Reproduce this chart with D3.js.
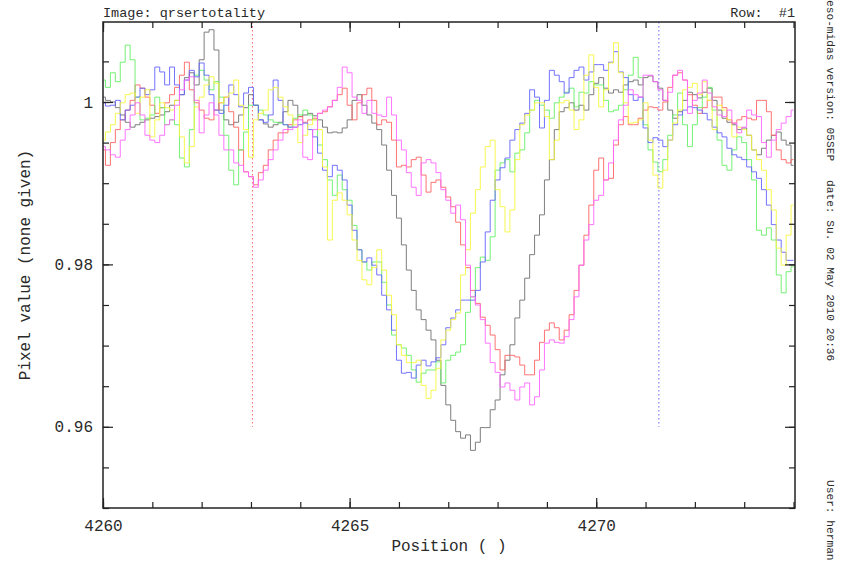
<!DOCTYPE html>
<html><head><meta charset="utf-8">
<script src="https://cdn.jsdelivr.net/npm/d3@7"></script>
<style>
html,body{margin:0;padding:0;background:#fff;}
svg{display:block;}
text{font-family:"Liberation Mono","DejaVu Sans Mono",monospace;fill:#2a2a2a;}
</style></head>
<body>
<svg id="chart" width="847" height="563"></svg>
<script>
// ---- data ----
const positions = d3.range(0, 141).map(i => +(4260 + i / 10).toFixed(1));

const seriesGray = [
1.0006,1.0002,1.0000,0.9993,0.9984,0.9975,0.9969,0.9972,0.9975,0.9978,
0.9980,0.9982,0.9984,0.9988,0.9996,1.0002,1.0009,1.0030,1.0036,1.0021,
1.0052,1.0086,1.0089,1.0064,0.9990,0.9978,0.9972,0.9975,0.9984,0.9993,
1.0009,0.9996,0.9978,0.9973,0.9969,0.9972,0.9975,0.9988,1.0002,0.9996,
0.9982,0.9984,0.9986,0.9983,0.9978,0.9969,0.9962,0.9963,0.9962,0.9968,
0.9978,1.0002,1.0009,0.9996,0.9984,0.9974,0.9966,0.9947,0.9916,0.9885,
0.9857,0.9824,0.9793,0.9768,0.9744,0.9732,0.9719,0.9707,0.9682,0.9651,
0.9627,0.9608,0.9594,0.9586,0.9590,0.9571,0.9581,0.9599,0.9599,0.9621,
0.9633,0.9664,0.9682,0.9701,0.9734,0.9756,0.9783,0.9812,0.9836,0.9861,
0.9904,0.9929,0.9966,0.9988,0.9993,0.9999,0.9990,0.9996,0.9990,1.0009,
1.0023,1.0030,1.0017,1.0011,1.0015,1.0012,1.0021,1.0025,1.0027,1.0021,
1.0030,1.0032,1.0025,1.0017,1.0002,0.9990,0.9980,0.9988,1.0002,1.0012,
1.0009,1.0005,1.0012,1.0017,1.0002,0.9990,0.9980,0.9975,0.9972,0.9966,
0.9968,0.9959,0.9941,0.9935,0.9943,0.9953,0.9959,0.9963,0.9953,0.9947,
0.9922];

const seriesRed = [
0.9941,0.9922,0.9950,0.9966,0.9978,0.9990,1.0002,1.0021,1.0017,1.0006,
0.9996,0.9986,0.9993,0.9999,1.0009,1.0018,1.0033,1.0049,1.0015,0.9999,
0.9990,0.9980,0.9978,0.9990,0.9999,1.0006,0.9988,0.9969,0.9941,0.9914,
0.9908,0.9898,0.9913,0.9922,0.9941,0.9953,0.9962,0.9962,0.9972,0.9978,
0.9982,0.9975,0.9978,0.9980,0.9986,0.9988,0.9994,1.0002,1.0009,1.0017,
0.9996,0.9978,0.9999,1.0009,1.0017,1.0002,0.9972,0.9978,0.9975,0.9953,
0.9920,0.9922,0.9920,0.9929,0.9932,0.9910,0.9889,0.9901,0.9904,0.9895,
0.9883,0.9871,0.9852,0.9824,0.9796,0.9768,0.9752,0.9735,0.9725,0.9713,
0.9695,0.9670,0.9688,0.9688,0.9686,0.9676,0.9664,0.9664,0.9682,0.9704,
0.9719,0.9728,0.9722,0.9707,0.9719,0.9738,0.9768,0.9799,0.9836,0.9873,
0.9916,0.9931,0.9904,0.9906,0.9947,0.9972,0.9982,0.9972,0.9972,0.9980,
0.9990,0.9994,0.9993,0.9990,1.0000,1.0018,1.0033,1.0036,1.0027,1.0009,
0.9996,0.9986,0.9993,1.0002,1.0006,1.0006,0.9993,0.9978,0.9974,0.9978,
0.9982,0.9980,0.9978,1.0002,1.0002,0.9988,0.9959,0.9941,0.9929,0.9925,
0.9929];

const seriesGreen = [
1.0027,1.0018,1.0036,1.0025,1.0049,1.0070,1.0052,1.0006,0.9978,0.9980,
0.9984,1.0006,0.9993,0.9972,0.9978,0.9972,0.9931,0.9920,0.9966,1.0033,
1.0039,1.0027,1.0015,1.0025,1.0006,0.9959,0.9916,0.9898,0.9941,0.9963,
0.9996,0.9996,0.9990,0.9984,0.9978,0.9975,0.9974,0.9972,0.9969,0.9980,
0.9984,0.9990,0.9984,0.9978,0.9947,0.9929,0.9904,0.9885,0.9910,0.9892,
0.9879,0.9848,0.9818,0.9803,0.9793,0.9803,0.9803,0.9778,0.9750,0.9713,
0.9701,0.9697,0.9688,0.9670,0.9655,0.9666,0.9670,0.9670,0.9680,0.9654,
0.9682,0.9688,0.9692,0.9701,0.9741,0.9760,0.9796,0.9809,0.9805,0.9834,
0.9916,0.9925,0.9929,0.9914,0.9937,0.9941,0.9962,0.9990,1.0002,0.9996,
0.9990,0.9980,0.9999,1.0006,1.0012,1.0017,0.9994,1.0012,1.0011,1.0025,
1.0021,1.0021,1.0002,0.9988,0.9990,0.9996,1.0015,1.0033,1.0055,1.0030,
0.9972,0.9941,0.9926,0.9914,0.9929,0.9959,0.9984,1.0011,0.9972,0.9945,
0.9972,0.9993,1.0006,1.0018,0.9990,0.9953,0.9922,0.9916,0.9941,0.9957,
0.9950,0.9929,0.9904,0.9842,0.9836,0.9845,0.9830,0.9787,0.9765,0.9791,
0.9797];

const seriesBlue = [
0.9999,0.9995,0.9996,1.0002,0.9978,0.9990,0.9996,1.0006,1.0017,1.0009,
1.0015,1.0043,1.0037,1.0021,1.0043,1.0021,1.0009,1.0027,1.0039,1.0031,
1.0048,1.0033,1.0009,0.9990,0.9986,0.9996,1.0021,1.0009,0.9994,1.0011,
1.0018,0.9996,0.9978,0.9975,0.9984,1.0027,1.0002,0.9972,0.9969,0.9969,
0.9972,0.9974,0.9966,0.9957,0.9937,0.9916,0.9908,0.9922,0.9916,0.9904,
0.9873,0.9842,0.9818,0.9803,0.9808,0.9799,0.9787,0.9762,0.9744,0.9719,
0.9682,0.9666,0.9667,0.9660,0.9676,0.9682,0.9675,0.9680,0.9685,0.9701,
0.9722,0.9734,0.9744,0.9756,0.9756,0.9756,0.9768,0.9803,0.9840,0.9879,
0.9904,0.9919,0.9931,0.9953,0.9966,0.9974,0.9986,1.0015,1.0006,0.9968,
1.0002,1.0039,1.0033,1.0025,1.0011,1.0030,1.0039,1.0043,1.0027,1.0037,
1.0046,1.0046,1.0039,1.0049,1.0062,1.0037,1.0030,1.0009,1.0002,1.0006,
0.9968,0.9950,0.9956,0.9953,0.9945,0.9953,0.9972,0.9984,0.9990,0.9994,
0.9993,0.9990,0.9986,0.9978,0.9969,0.9962,0.9957,0.9943,0.9935,0.9932,
0.9929,0.9920,0.9914,0.9906,0.9892,0.9873,0.9849,0.9830,0.9815,0.9805,
0.9805];

const seriesYellow = [
0.9953,0.9963,0.9972,0.9986,0.9999,1.0009,1.0011,0.9986,1.0006,1.0015,
0.9957,0.9978,0.9999,0.9993,0.9990,1.0002,0.9957,0.9925,0.9945,0.9994,
1.0006,1.0021,1.0031,1.0023,0.9999,1.0006,1.0011,1.0027,0.9996,0.9966,
0.9932,0.9978,0.9986,0.9990,1.0015,1.0018,1.0006,0.9994,0.9984,0.9972,
0.9950,0.9959,0.9972,0.9978,0.9966,0.9920,0.9830,0.9879,0.9888,0.9879,
0.9861,0.9830,0.9805,0.9781,0.9775,0.9796,0.9818,0.9793,0.9762,0.9738,
0.9701,0.9688,0.9679,0.9679,0.9682,0.9651,0.9635,0.9645,0.9672,0.9707,
0.9719,0.9732,0.9740,0.9787,0.9818,0.9863,0.9892,0.9920,0.9945,0.9953,
0.9892,0.9871,0.9840,0.9867,0.9929,0.9972,0.9984,0.9990,0.9999,0.9999,
0.9982,0.9929,0.9953,0.9999,1.0002,0.9990,0.9966,0.9978,1.0033,1.0058,
1.0018,0.9994,1.0015,1.0048,1.0073,1.0036,0.9999,0.9974,0.9975,0.9978,
0.9999,0.9953,0.9910,0.9894,0.9916,0.9953,0.9974,0.9990,1.0015,1.0018,
1.0023,1.0009,1.0025,1.0002,0.9966,0.9996,0.9990,0.9978,0.9957,0.9969,
0.9966,0.9959,0.9941,0.9929,0.9916,0.9892,0.9867,0.9820,0.9799,0.9836,
0.9873];

const seriesMagenta = [
0.9945,0.9941,0.9935,0.9932,0.9953,0.9966,0.9984,0.9999,0.9984,0.9959,
0.9953,0.9950,0.9959,0.9972,0.9978,0.9996,1.0015,1.0027,1.0031,1.0002,
0.9962,0.9984,0.9999,0.9984,0.9959,0.9941,0.9941,0.9925,0.9922,0.9914,
0.9908,0.9895,0.9904,0.9916,0.9929,0.9941,0.9953,0.9966,0.9966,0.9969,
0.9978,0.9932,0.9929,0.9966,0.9986,0.9990,0.9994,1.0002,1.0018,1.0043,
1.0036,1.0006,1.0002,0.9986,1.0002,0.9986,0.9984,0.9982,1.0006,0.9984,
0.9953,0.9941,0.9913,0.9895,0.9885,0.9925,0.9929,0.9925,0.9913,0.9892,
0.9879,0.9863,0.9873,0.9855,0.9799,0.9760,0.9750,0.9732,0.9703,0.9679,
0.9667,0.9649,0.9654,0.9645,0.9633,0.9649,0.9654,0.9627,0.9637,0.9670,
0.9703,0.9707,0.9704,0.9703,0.9711,0.9732,0.9760,0.9799,0.9830,0.9849,
0.9879,0.9885,0.9904,0.9925,0.9953,0.9978,0.9996,1.0015,1.0009,1.0006,
1.0033,1.0033,1.0025,1.0015,1.0002,1.0012,1.0033,1.0039,1.0027,0.9986,
1.0002,1.0011,1.0027,1.0011,0.9994,0.9984,0.9982,0.9990,0.9974,0.9962,
0.9969,0.9990,0.9984,0.9982,0.9950,0.9932,0.9953,0.9966,0.9974,0.9982,
0.9990];

const seriesList = [
  {name: "gray", values: seriesGray, color: "#707070"},
  {name: "red", values: seriesRed, color: "#ff6464"},
  {name: "green", values: seriesGreen, color: "#66f066"},
  {name: "blue", values: seriesBlue, color: "#6464ff"},
  {name: "yellow", values: seriesYellow, color: "#f6f640"},
  {name: "magenta", values: seriesMagenta, color: "#ff66ff"}
];

const markerPositions = [4263.03, 4271.27];
const markerColors = ["#ff6a6a", "#6a6aff"];
const markerBottom = 0.96;

const xMinorTicks = [4260,4261,4262,4263,4264,4265,4266,4267,4268,4269,4270,4271,4272,4273,4274];
const xMajorTicks = [4260,4265,4270];
const yMinorTicks = [0.95,0.955,0.96,0.965,0.97,0.975,0.98,0.985,0.99,0.995,1.0,1.005];
const yMajorTicks = [0.96,0.98,1.0];

const titleText = "Image: qrsertotality";
const rowText = "Row:  #1";
const xLabel = "Position ( )";
const yLabel = "Pixel value (none given)";
const sideTexts = ["eso-midas version: 05SEP", "date: Su. 02 May 2010 20:36", "User: herman"];

// ---- drawing ----
const svg = d3.select("#chart");
const L = 103, R = 795, T = 22, B = 508;
const x = d3.scaleLinear().domain([4260, 4274.03]).range([L, R]);
const y = d3.scaleLinear().domain([0.95, 1.00985]).range([B, T]);

svg.append("defs").append("clipPath").attr("id", "clip")
  .append("rect").attr("x", L).attr("y", T).attr("width", R - L).attr("height", B - T);

// markers
const mg = svg.append("g");
markerPositions.forEach((p, i) => {
  mg.append("line")
    .attr("x1", x(p)).attr("x2", x(p))
    .attr("y1", T).attr("y2", y(markerBottom))
    .attr("stroke", markerColors[i]).attr("stroke-width", 1)
    .attr("stroke-dasharray", "1.5,2.5");
});

// series
const line = d3.line()
  .x((d, i) => x(positions[i]))
  .y(d => y(d))
  .curve(d3.curveStep);

const lg = svg.append("g").attr("clip-path", "url(#clip)");
seriesList.forEach(s => {
  lg.append("path")
    .datum(s.values)
    .attr("d", line)
    .attr("fill", "none")
    .attr("stroke", s.color)
    .attr("stroke-width", 1)
    .attr("stroke-opacity", 0.9);
});

// axes ticks (inward)
function styleAxis(g) {
  g.select(".domain").remove();
  g.selectAll(".tick line").attr("stroke", "#222").attr("stroke-width", 1.2);
  g.selectAll(".tick text").attr("font-family", "Liberation Mono, DejaVu Sans Mono, monospace")
    .attr("font-size", 16).attr("fill", "#2a2a2a");
}
svg.append("g").attr("transform", `translate(0,${B})`)
  .call(d3.axisBottom(x).tickValues(xMinorTicks).tickSize(-6).tickFormat(""))
  .call(styleAxis);
svg.append("g").attr("transform", `translate(0,${B})`)
  .call(d3.axisBottom(x).tickValues(xMajorTicks).tickSize(-10).tickPadding(12).tickFormat(d3.format("d")))
  .call(styleAxis);
svg.append("g").attr("transform", `translate(0,${T})`)
  .call(d3.axisTop(x).tickValues(xMinorTicks).tickSize(-6).tickFormat(""))
  .call(styleAxis);
svg.append("g").attr("transform", `translate(0,${T})`)
  .call(d3.axisTop(x).tickValues(xMajorTicks).tickSize(-10).tickFormat(""))
  .call(styleAxis);

svg.append("g").attr("transform", `translate(${L},0)`)
  .call(d3.axisLeft(y).tickValues(yMinorTicks).tickSize(-6).tickFormat(""))
  .call(styleAxis);
svg.append("g").attr("transform", `translate(${L},0)`)
  .call(d3.axisLeft(y).tickValues(yMajorTicks).tickSize(-10).tickPadding(10)
    .tickFormat(d => String(+d.toFixed(2))))
  .call(styleAxis);
svg.append("g").attr("transform", `translate(${R},0)`)
  .call(d3.axisRight(y).tickValues(yMinorTicks).tickSize(-6).tickFormat(""))
  .call(styleAxis);
svg.append("g").attr("transform", `translate(${R},0)`)
  .call(d3.axisRight(y).tickValues(yMajorTicks).tickSize(-10).tickFormat(""))
  .call(styleAxis);

// frame
svg.append("rect").attr("x", L).attr("y", T).attr("width", R - L).attr("height", B - T)
  .attr("fill", "none").attr("stroke", "#222").attr("stroke-width", 1.5);

// texts
svg.append("text").attr("x", L).attr("y", 17).attr("font-size", 13.5).text(titleText);
svg.append("text").attr("x", R).attr("y", 17).attr("font-size", 13.5)
  .attr("text-anchor", "end").style("white-space", "pre").text(rowText);
svg.append("text").attr("x", (L + R) / 2).attr("y", 551).attr("font-size", 16)
  .attr("text-anchor", "middle").text(xLabel);
svg.append("text").attr("transform", `translate(30,${(T + B) / 2}) rotate(-90)`)
  .attr("font-size", 16).attr("text-anchor", "middle").text(yLabel);

const sideY = [0, 180, 480];
sideTexts.forEach((t, i) => {
  svg.append("text").attr("transform", `translate(827,${sideY[i]}) rotate(90)`)
    .attr("font-size", 11.2).text(t);
});
</script>
</body></html>
